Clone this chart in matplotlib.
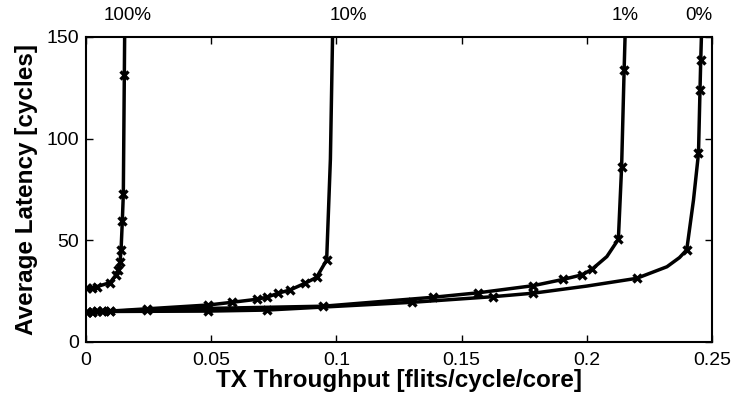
import matplotlib
matplotlib.use('Agg')
import matplotlib.pyplot as plt

plt.rcParams['font.family'] = ['Liberation Sans', 'DejaVu Sans']

# latency curves per percentage label
lat_100_x = [0.0003, 0.0023, 0.0043, 0.0096, 0.0120, 0.0129, 0.0136, 0.0140,
             0.0145, 0.0149, 0.0153, 0.0155]
lat_100_y = [26.4, 26.6, 27.2, 29.2, 33.0, 35.4, 39.5, 45.3, 59.5, 72.6,
             131.3, 160.0]
lat_100_marks = list(range(11))

lat_10_x = [0.0003, 0.0023, 0.0043, 0.0063, 0.0096, 0.0242, 0.0489, 0.0582,
            0.0682, 0.0722, 0.0768, 0.0815, 0.0875, 0.0921, 0.0961, 0.0976,
            0.0986]
lat_10_y = [14.9, 14.9, 15.0, 15.0, 15.2, 16.3, 18.2, 19.5, 21.0, 22.0, 24.0,
            25.6, 28.9, 31.8, 40.3, 90.0, 160.0]
lat_10_marks = list(range(15))

lat_1_x = [0.0003, 0.0043, 0.0096, 0.0242, 0.0489, 0.0948, 0.1387, 0.1567,
           0.1786, 0.1906, 0.1980, 0.2020, 0.2080, 0.2126, 0.2139, 0.2149,
           0.2155]
lat_1_y = [14.9, 15.0, 15.1, 15.8, 16.5, 17.6, 22.0, 24.2, 27.7, 30.8, 33.0,
           35.7, 42.0, 50.5, 86.2, 133.8, 160.0]
lat_1_marks = [0, 1, 2, 3, 4, 5, 6, 7, 8, 9, 10, 11, 13, 14, 15]

lat_0_x = [0.0003, 0.0023, 0.0063, 0.0489, 0.0722, 0.1300, 0.1627, 0.1786,
           0.2000, 0.2199, 0.2320, 0.2370, 0.2399, 0.2426, 0.2446, 0.2452,
           0.2455, 0.2460]
lat_0_y = [14.9, 14.9, 15.0, 15.2, 15.7, 19.5, 22.3, 24.0, 27.5, 31.3, 37.0,
           41.5, 45.3, 69.8, 92.8, 124.0, 138.7, 160.0]
lat_0_marks = [0, 1, 2, 3, 4, 5, 6, 7, 9, 12, 14, 15, 16]

curve_labels = ['100%', '10%', '1%', '0%']
label_x = [0.0168, 0.1046, 0.2153, 0.2448]


def main() -> None:
    fig = plt.figure(figsize=(7.32, 3.96), dpi=100)
    ax = fig.add_axes([0.1175, 0.1364, 0.8552, 0.7702])

    series = [(lat_100_x, lat_100_y, lat_100_marks),
              (lat_10_x, lat_10_y, lat_10_marks),
              (lat_1_x, lat_1_y, lat_1_marks),
              (lat_0_x, lat_0_y, lat_0_marks)]
    for x, y, marks in series:
        ax.plot(x, y, color='black', linewidth=2.5, marker='x',
                markersize=6, markeredgewidth=2.4, markevery=marks)

    for name, lx in zip(curve_labels, label_x):
        ax.text(lx, 160.5, name, ha='center', va='center', fontsize=13.5,
                clip_on=False)

    ax.set_xlim(0, 0.25)
    ax.set_ylim(0, 150)
    ax.set_xticks([0, 0.05, 0.1, 0.15, 0.2, 0.25])
    ax.set_xticklabels(['0', '0.05', '0.1', '0.15', '0.2', '0.25'])
    ax.set_yticks([0, 50, 100, 150])
    ax.tick_params(direction='in', top=True, right=True, length=5,
                   width=1, labelsize=14)
    ax.tick_params(axis='x', pad=7)
    ax.tick_params(axis='y', pad=5)
    for spine in ax.spines.values():
        spine.set_linewidth(1.5)

    ax.set_xlabel('TX Throughput [flits/cycle/core]', fontsize=17.5,
                  fontweight='bold', labelpad=0)
    ax.set_ylabel('Average Latency [cycles]', fontsize=17.5,
                  fontweight='bold', labelpad=6)

    fig.savefig('out.png', dpi=100)


if __name__ == "__main__":
    main()
